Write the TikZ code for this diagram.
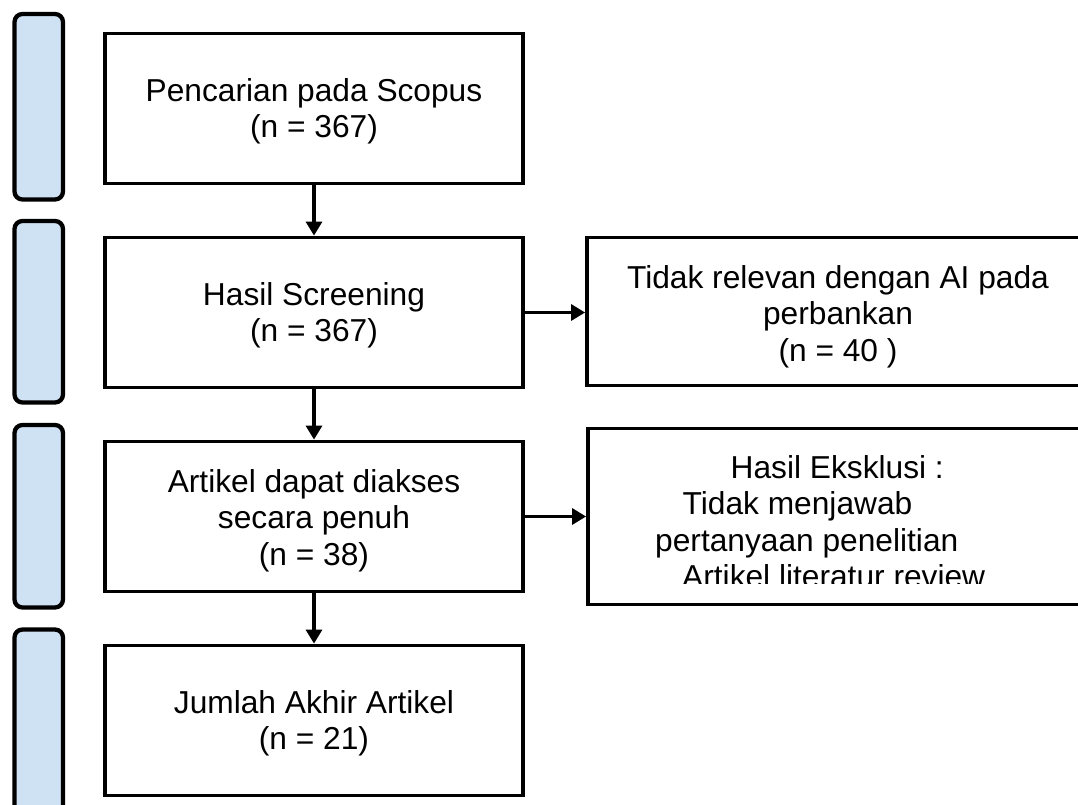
\documentclass[tikz,border=0pt]{standalone}
\usepackage{fontspec}
\setmainfont{Liberation Sans}
\usetikzlibrary{arrows.meta}
\newcommand\diagfont{\fontsize{31.7}{36.5}\selectfont}
\definecolor{barblue}{HTML}{CFE2F3}
\tikzset{
  mainbox/.style={draw=black, line width=3.8pt, rectangle, minimum width=418pt, minimum height=150pt, inner sep=0pt},
  sidebox/.style={draw=black, line width=3.8pt, rectangle, inner sep=0pt},
  bar/.style={draw=black, fill=barblue, line width=4.3pt, rounded corners=8pt, minimum width=48.5pt, inner sep=0pt},
  txt/.style={font=\diagfont, align=center, inner sep=0pt},
  arr/.style={line width=3.2pt, -{Triangle[length=14pt,width=16pt]}}
}
\begin{document}
\begin{tikzpicture}[x=1pt,y=-1pt]
\useasboundingbox (0,0) rectangle (1078,805);
\clip (0,0) rectangle (1078,805);
\fill[white] (0,0) rectangle (1078,805);
% left bars
\node[bar, minimum height=185.5pt] (bar1) at (38.75,106.75) {};
\node[bar, minimum height=181.5pt] (bar2) at (38.75,311.75) {};
\node[bar, minimum height=182.5pt] (bar3) at (38.75,516.25) {};
\node[bar, minimum height=200pt] (bar4) at (38.75,729.5) {};
% main boxes
\node[mainbox] (b1) at (314,108.5) {};
\node[mainbox] (b2) at (314,312.5) {};
\node[mainbox] (b3) at (314,516.5) {};
\node[mainbox] (b4) at (314,720.5) {};
\node[txt, yshift=-3pt] (t1) at (b1) {Pencarian pada Scopus\\(n = 367)};
\node[txt, yshift=-3pt] (t2) at (b2) {Hasil Screening\\(n = 367)};
\node[txt, yshift=-4pt] (t3) at (b3) {Artikel dapat diakses\\secara penuh\\(n = 38)};
\node[txt, yshift=-3pt] (t4) at (b4) {Jumlah Akhir Artikel\\(n = 21)};
% side boxes
\node[sidebox, minimum width=523pt, minimum height=148pt] (r1) at (848.5,311.5) {};
\node[txt] (r1t) at (838,316.5) {Tidak relevan dengan AI pada\\perbankan\\(n = 40 )};
\node[sidebox, minimum width=522pt, minimum height=176pt] (r2) at (849,516.5) {};
\begin{scope}
\clip (589,430) rectangle (1078,583.5);
\node[font=\diagfont, align=left, inner sep=0pt, anchor=north west] (r2t) at (655,455) {\hspace*{75.5pt}Hasil Eksklusi :\\\hspace*{27.5pt}Tidak menjawab\\pertanyaan penelitian\\\hspace*{27pt}Artikel literatur review};
\end{scope}
% connectors
\draw[arr] (b1) -- (b2);
\draw[arr] (b2) -- (b3);
\draw[arr] (b3) -- (b4);
\draw[arr] (b2.east) -- (b2.east -| r1.west);
\draw[arr] (b3.east) -- (b3.east -| r2.west);
\end{tikzpicture}
\end{document}
